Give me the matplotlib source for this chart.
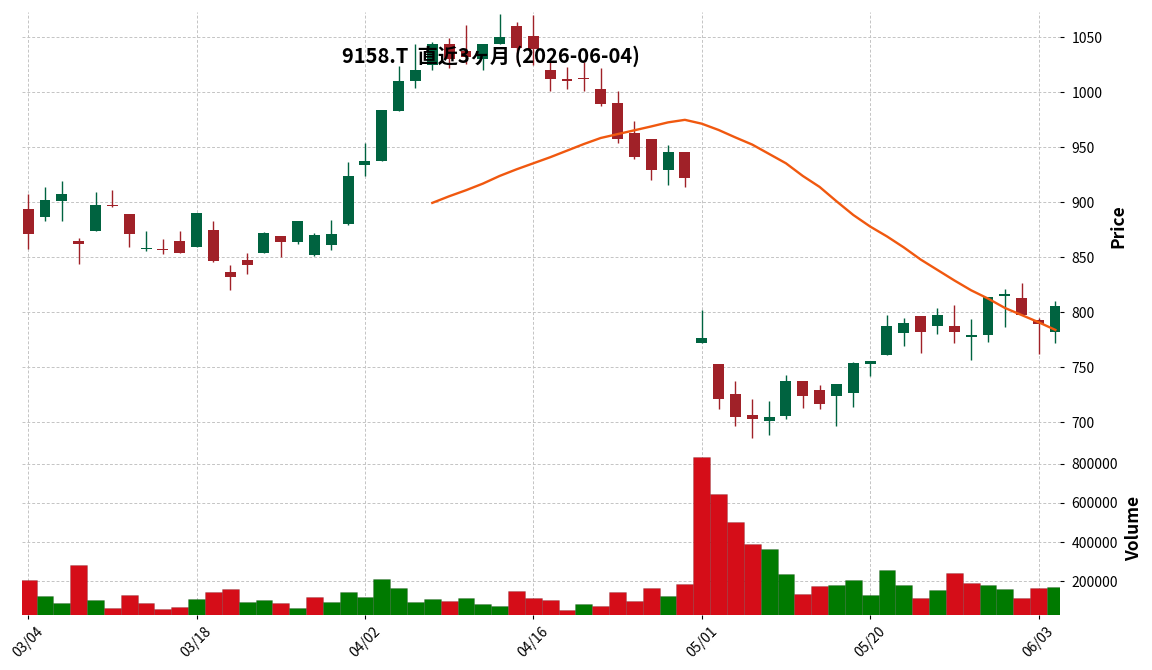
import pandas as pd
import matplotlib
matplotlib.use('Agg')
import matplotlib.pyplot as plt

plt.rcParams['font.family'] = ['Noto Sans CJK JP', 'DejaVu Sans']

# Daily data (9158.T, last 3 months)
dates = ['2026-03-04', '2026-03-05', '2026-03-06', '2026-03-09', '2026-03-10', '2026-03-11',
         '2026-03-12', '2026-03-13', '2026-03-16', '2026-03-17', '2026-03-18', '2026-03-19',
         '2026-03-23', '2026-03-24', '2026-03-25', '2026-03-26', '2026-03-27', '2026-03-30',
         '2026-03-31', '2026-04-01', '2026-04-02', '2026-04-03', '2026-04-06', '2026-04-07',
         '2026-04-08', '2026-04-09', '2026-04-10', '2026-04-13', '2026-04-14', '2026-04-15',
         '2026-04-16', '2026-04-17', '2026-04-20', '2026-04-21', '2026-04-22', '2026-04-23',
         '2026-04-24', '2026-04-27', '2026-04-28', '2026-04-30', '2026-05-01', '2026-05-07',
         '2026-05-08', '2026-05-11', '2026-05-12', '2026-05-13', '2026-05-14', '2026-05-15',
         '2026-05-18', '2026-05-19', '2026-05-20', '2026-05-21', '2026-05-22', '2026-05-25',
         '2026-05-26', '2026-05-27', '2026-05-28', '2026-05-29', '2026-06-01', '2026-06-02',
         '2026-06-03', '2026-06-04']

opens = [894, 887, 901, 865, 874, 898, 889, 858, 858, 865, 859, 875, 837, 848, 854, 869,
         864, 852, 861, 880, 934, 938, 983, 1010, 1025, 1044, 1038, 1030, 1044, 1060, 1051,
         1020, 1012, 1013, 1003, 990, 963, 958, 929, 946, 772, 753, 726, 707, 701, 706, 738,
         729, 724, 727, 753, 761, 781, 797, 788, 788, 778, 779, 815, 813, 793, 782]
highs = [908, 914, 919, 868, 909, 911, 889, 874, 867, 874, 890, 883, 843, 854, 873, 869,
         883, 872, 884, 937, 954, 984, 1024, 1044, 1046, 1049, 1061, 1044, 1071, 1064, 1070,
         1028, 1023, 1028, 1022, 1001, 974, 958, 952, 946, 802, 753, 738, 721, 719, 743, 738,
         734, 735, 755, 756, 798, 795, 797, 804, 807, 794, 814, 821, 827, 795, 810]
lows = [858, 883, 883, 844, 874, 896, 859, 856, 853, 854, 859, 846, 820, 835, 854, 850,
        862, 851, 857, 879, 924, 938, 983, 1004, 1020, 1022, 1026, 1020, 1044, 1028, 1025,
        1001, 1003, 1001, 988, 954, 939, 920, 916, 914, 772, 712, 697, 686, 688, 703, 713,
        712, 697, 714, 742, 761, 769, 763, 780, 772, 757, 773, 787, 798, 762, 772]
closes = [871, 902, 908, 862, 898, 897, 871, 858, 857, 854, 890, 847, 832, 843, 872, 864,
          883, 870, 871, 924, 938, 984, 1010, 1020, 1044, 1030, 1032, 1044, 1050, 1040, 1039,
          1012, 1010, 1012, 989, 958, 941, 929, 946, 922, 777, 721, 705, 703, 705, 738, 724,
          717, 735, 754, 756, 788, 790, 782, 798, 782, 779, 814, 817, 798, 789, 806]
volumes = [207000, 124000, 88000, 284000, 103000, 62000, 129000, 88000, 57000, 67000,
           109000, 145000, 160000, 93000, 103000, 88000, 62000, 119000, 93000, 145000,
           119000, 212000, 165000, 93000, 109000, 98000, 114000, 83000, 72000, 150000,
           114000, 103000, 52000, 83000, 72000, 145000, 98000, 165000, 124000, 186000,
           833000, 646000, 502000, 388000, 367000, 238000, 134000, 176000, 181000, 207000,
           129000, 259000, 181000, 114000, 155000, 243000, 191000, 181000, 160000, 114000,
           165000, 171000]

# 25-day moving average as drawn (first value at 2026-04-08)
ma_start = 24
ma25 = [899.5, 905.5, 911, 917, 924, 930, 935.5, 941, 947, 953, 958.5, 962, 965.5, 969,
        972.7, 975, 971.5, 965.8, 959, 952.5, 944, 935.5, 924, 914, 901, 888.5, 878, 869,
        859, 848, 838.5, 829, 820, 812.5, 804, 797.5, 791, 784]

title = '9158.T  直近3ヶ月 (2026-06-04)'

# Colours (mplfinance 'charles'-like)
up_c, down_c = '#006340', '#a02128'
vol_up, vol_down = '#007a00', '#d50d18'
ma_c = '#f0580f'
grid_c = '#c4c4c4'

x = list(range(len(dates)))
candle_cols = [up_c if c >= o else down_c for o, c in zip(opens, closes)]
vol_cols = [vol_up if opens[0] < closes[0] else vol_down]
vol_cols += [vol_up if c > p else vol_down for p, c in zip(closes[:-1], closes[1:])]

fig = plt.figure(figsize=(11.52, 6.70), dpi=100)
ax_p = fig.add_axes([0.0189, 0.3418, 0.9016, 0.6407])
ax_v = fig.add_axes([0.0189, 0.0819, 0.9016, 0.2599], sharex=ax_p)

for ax in (ax_p, ax_v):
    for s in ax.spines.values():
        s.set_visible(False)
    ax.grid(True, color=grid_c, linestyle=(0, (3, 2)), linewidth=0.7)
    ax.set_axisbelow(True)
    ax.yaxis.tick_right()
    ax.yaxis.set_label_position('right')
    ax.tick_params(axis='y', length=3, labelsize=10, pad=5)

# Candles
ax_p.vlines(x, lows, highs, colors=candle_cols, linewidth=1.0, zorder=2)
bodies = [max(abs(c - o), 0.8) for o, c in zip(opens, closes)]
ax_p.bar(x, bodies, bottom=[min(o, c) for o, c in zip(opens, closes)], width=0.65,
         color=candle_cols, linewidth=0, zorder=3)
ax_p.plot(x[ma_start:], ma25, color=ma_c, linewidth=1.7, zorder=4)

ax_p.set_xlim(-0.38, 61.3)
ax_p.set_ylim(683, 1073.3)
ax_p.set_yticks(range(700, 1051, 50))
ax_p.tick_params(axis='x', bottom=False, labelbottom=False)
ax_p.set_ylabel('Price', fontsize=12.5, fontweight='bold', labelpad=5)

# Volume
ax_v.bar(x, volumes, width=1.0, color=vol_cols, edgecolor=(0, 0, 0, 0.2),
         linewidth=0.5, zorder=2)
ax_v.set_ylim(27500, 916000)
ax_v.set_yticks([200000, 400000, 600000, 800000])
ax_v.ticklabel_format(axis='y', style='plain', useOffset=False)
ax_v.set_ylabel('Volume', fontsize=12.5, fontweight='bold', labelpad=5)

tick_pos = list(range(0, len(dates), 10))
tick_lab = [pd.Timestamp(dates[i]).strftime('%m/%d') for i in tick_pos]
ax_v.set_xticks(tick_pos)
ax_v.set_xticklabels(tick_lab, rotation=45, fontsize=10)
ax_v.tick_params(axis='x', length=3)

fig.text(0.426, 0.916, title, ha='center', va='center', fontsize=14.5, fontweight='bold')

fig.savefig('out.png', dpi=100)
